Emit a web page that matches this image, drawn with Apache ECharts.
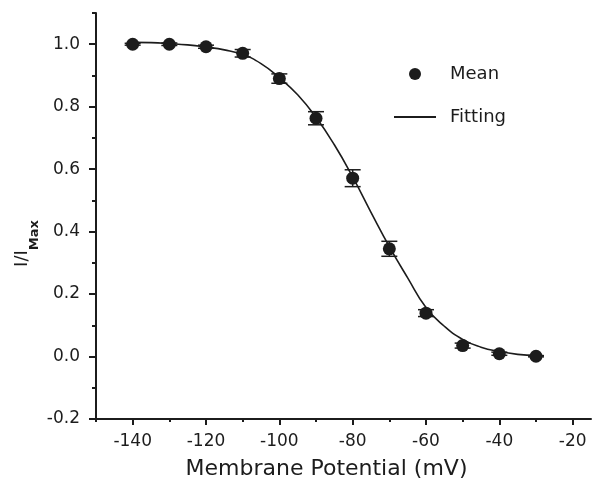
<!DOCTYPE html>
<html>
<head>
<meta charset="utf-8">
<script src="https://cdn.jsdelivr.net/npm/echarts@6/dist/echarts.min.js"></script>
<style>
  html, body { margin: 0; padding: 0; background: #ffffff; }
  #chart { width: 593px; height: 482px; }
</style>
</head>
<body>
<div id="chart"></div>
<script>
// Steady-state inactivation: normalized current vs. membrane potential
const voltages   = [-140, -130, -120, -110, -100, -90, -80, -70, -60, -50, -40, -30];
const meanValues = [1.000, 1.000, 0.992, 0.971, 0.890, 0.763, 0.571, 0.345, 0.139, 0.035, 0.009, 0.001];
const semValues  = [0.003, 0.004, 0.005, 0.012, 0.015, 0.021, 0.027, 0.024, 0.011, 0.008, 0.005, 0.002];

// Boltzmann fit curve, sampled every 5 mV
const fitVoltages = [-140, -135, -130, -125, -120, -115, -110, -105, -100, -95, -90, -85,
                     -80, -75, -70, -65, -60, -55, -50, -45, -40, -35, -30];
const fitValues   = [1.006, 1.005, 1.002, 0.998, 0.991, 0.982, 0.967, 0.938, 0.893, 0.838, 0.766, 0.678,
                     0.575, 0.462, 0.352, 0.252, 0.157, 0.097, 0.055, 0.030, 0.016, 0.007, 0.003];

const xMajorTicks = [-140, -120, -100, -80, -60, -40, -20];
const xMinorTicks = [-150, -130, -110, -90, -70, -50, -30];
const yMajorTicks = [-0.2, 0.0, 0.2, 0.4, 0.6, 0.8, 1.0];
const yMinorTicks = [-0.1, 0.1, 0.3, 0.5, 0.7, 0.9, 1.1];

const FONT = 'DejaVu Sans';
const INK = '#1c1c1c';
const X_MIN = -150, X_MAX = -15;
const Y_MIN = -0.2, Y_MAX = 1.1;

const chart = echarts.init(document.getElementById('chart'), null, { renderer: 'canvas' });

const errorData = voltages.map((v, i) => [v, meanValues[i] - semValues[i], meanValues[i] + semValues[i]]);
const fitData = fitVoltages.map((v, i) => [v, fitValues[i]]);
const meanData = voltages.map((v, i) => [v, meanValues[i]]);

function renderErrorBar(params, api) {
  const x = api.value(0);
  const lo = api.coord([x, api.value(1)]);
  const hi = api.coord([x, api.value(2)]);
  const half = 8;
  const style = { stroke: INK, lineWidth: 1.5 };
  return {
    type: 'group',
    children: [
      { type: 'line', shape: { x1: hi[0], y1: hi[1], x2: lo[0], y2: lo[1] }, style: style },
      { type: 'line', shape: { x1: hi[0] - half, y1: hi[1], x2: hi[0] + half, y2: hi[1] }, style: style },
      { type: 'line', shape: { x1: lo[0] - half, y1: lo[1], x2: lo[0] + half, y2: lo[1] }, style: style }
    ]
  };
}

const option = {
  backgroundColor: '#ffffff',
  animation: false,
  grid: { left: 96, right: 2, top: 13, bottom: 63, containLabel: false, outerBoundsMode: 'none' },
  legend: {
    orient: 'vertical',
    left: 388,
    top: 60,
    itemWidth: 42,
    itemHeight: 12,
    itemGap: 25,
    textStyle: { fontFamily: FONT, fontSize: 18, color: INK, padding: [0, 0, 0, 9] },
    data: [
      { name: 'Mean', icon: 'circle' },
      { name: 'Fitting', itemStyle: { color: 'rgba(0,0,0,0)', borderWidth: 0 }, lineStyle: { color: INK, width: 2 } }
    ]
  },
  xAxis: [
    {
      type: 'value',
      position: 'bottom',
      min: X_MIN,
      max: X_MAX,
      name: 'Membrane Potential (mV)',
      nameLocation: 'middle',
      nameGap: 39,
      nameMoveOverlap: false,
      nameTextStyle: { fontFamily: FONT, fontSize: 22, color: INK, padding: [0, 34, 0, 0] },
      axisLine: { onZero: false, lineStyle: { color: INK, width: 2 } },
      axisTick: { inside: false, length: 6, customValues: xMajorTicks, lineStyle: { color: INK, width: 2 } },
      axisLabel: { customValues: xMajorTicks, margin: 14, fontFamily: FONT, fontSize: 17, color: INK },
      splitLine: { show: false }
    },
    {
      type: 'value',
      position: 'bottom',
      min: X_MIN,
      max: X_MAX,
      axisLine: { show: false, onZero: false },
      axisTick: { inside: false, length: 3, customValues: xMinorTicks, lineStyle: { color: INK, width: 2 } },
      axisLabel: { show: false },
      splitLine: { show: false }
    }
  ],
  yAxis: [
    {
      type: 'value',
      position: 'left',
      min: Y_MIN,
      max: Y_MAX,
      name: '{a|I/I}{b|Max}',
      nameLocation: 'middle',
      nameGap: 55,
      nameMoveOverlap: false,
      nameTextStyle: {
        padding: [0, 55, 0, 0],
        rich: {
          a: { fontFamily: FONT, fontSize: 18, color: INK, padding: [0, 0, 10, 0] },
          b: { fontFamily: FONT, fontSize: 13, fontWeight: 'bold', color: INK, verticalAlign: 'bottom' }
        }
      },
      axisLine: { onZero: false, lineStyle: { color: INK, width: 2 } },
      axisTick: { inside: false, length: 7, customValues: yMajorTicks, lineStyle: { color: INK, width: 2 } },
      axisLabel: {
        customValues: yMajorTicks,
        margin: 16,
        fontFamily: FONT,
        fontSize: 17,
        color: INK,
        formatter: v => v.toFixed(1)
      },
      splitLine: { show: false }
    },
    {
      type: 'value',
      position: 'left',
      min: Y_MIN,
      max: Y_MAX,
      axisLine: { show: false, onZero: false },
      axisTick: { inside: false, length: 4, customValues: yMinorTicks, lineStyle: { color: INK, width: 2 } },
      axisLabel: { show: false },
      splitLine: { show: false }
    }
  ],
  series: [
    {
      name: 'Fitting',
      type: 'line',
      xAxisIndex: 0,
      yAxisIndex: 0,
      data: fitData,
      smooth: true,
      symbol: 'none',
      lineStyle: { color: INK, width: 1.6 },
      itemStyle: { color: INK },
      z: 2
    },
    {
      name: 'SEM',
      type: 'custom',
      xAxisIndex: 0,
      yAxisIndex: 0,
      data: errorData,
      encode: { x: 0, y: [1, 2] },
      renderItem: renderErrorBar,
      z: 3
    },
    {
      name: 'Mean',
      type: 'scatter',
      xAxisIndex: 0,
      yAxisIndex: 0,
      data: meanData,
      symbol: 'circle',
      symbolSize: 13,
      itemStyle: { color: INK, opacity: 1 },
      z: 4
    }
  ]
};

chart.setOption(option);
</script>
</body>
</html>
